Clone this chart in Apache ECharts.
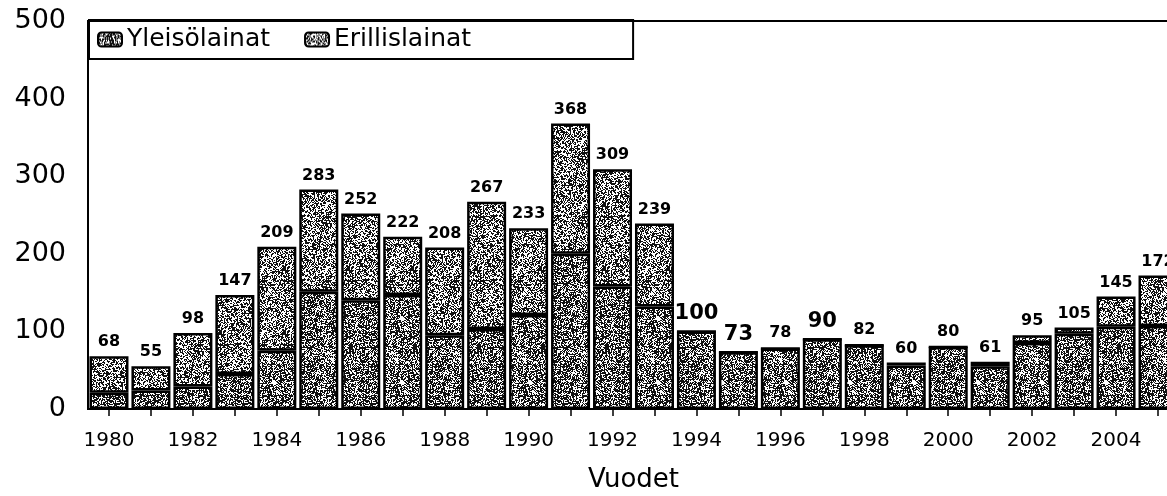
<!DOCTYPE html>
<html>
<head>
<meta charset="utf-8">
<script src="https://cdn.jsdelivr.net/npm/echarts@6/dist/echarts.min.js"></script>
<style>
html, body { margin: 0; padding: 0; background: #fff; }
#chart { width: 1167px; height: 496px; }
</style>
</head>
<body>
<div id="chart"></div>
<script>
// data
var years = ['1980', '1981', '1982', '1983', '1984', '1985', '1986', '1987', '1988', '1989',
    '1990', '1991', '1992', '1993', '1994', '1995', '1996', '1997', '1998', '1999',
    '2000', '2001', '2002', '2003', '2004', '2005']
var totals = [68, 55, 98, 147, 209, 283, 252, 222, 208, 267, 233, 368, 309, 239, 100, 73, 78, 90, 82, 60, 80, 61, 95, 105, 145, 172]
var yleisolainat = [21, 24, 29, 45, 75, 151, 140, 147, 95, 103, 121, 200, 158, 132, 100, 73, 78, 90, 82, 56, 80, 55, 85, 97, 106, 107]
var erillislainat = [47, 31, 69, 102, 134, 132, 112, 75, 113, 164, 112, 168, 151, 107, 0, 0, 0, 0, 0, 4, 0, 6, 10, 8, 39, 65]
// these totals are printed larger in the original
var bigLabels = ['1994', '1995', '1997']

// grainy fill like the photocopied original
const makeTexture = (density, seed) => {
    let c = document.createElement('canvas')
    c.width = 64
    c.height = 64
    let ctx = c.getContext('2d')
    ctx.fillStyle = '#fff'
    ctx.fillRect(0, 0, 64, 64)
    ctx.fillStyle = '#111'
    let s = seed
    for (let y = 0; y < 64; y++) {
        for (let x = 0; x < 64; x++) {
            s = (s * 1103515245 + 12345) % 2147483648
            if (s / 2147483648 < density) ctx.fillRect(x, y, 1, 1)
        }
    }
    return c
}

let myChart = echarts.init(document.getElementById('chart'))

const options = {
    animation: false,
    textStyle: { fontFamily: 'DejaVu Sans', color: '#000' },
    grid: {
        left: 88,
        top: 21,
        bottom: 87,
        width: 1091,
        outerBoundsMode: 'none',
        containLabel: false,
        show: true,
        borderColor: '#000',
        borderWidth: 2
    },
    legend: {
        left: 89,
        top: 20,
        itemWidth: 24,
        itemHeight: 14,
        itemGap: 34,
        padding: [7, 162, 7, 8],
        borderColor: '#000',
        borderWidth: 2,
        textStyle: { fontSize: 25, color: '#000', fontFamily: 'DejaVu Sans' },
        data: ['Yleisölainat', 'Erillislainat']
    },
    xAxis: {
        type: 'category',
        data: years,
        name: 'Vuodet',
        nameLocation: 'middle',
        nameGap: 58,
        nameTextStyle: { fontSize: 26, color: '#000' },
        axisLine: { lineStyle: { color: '#000', width: 2 } },
        axisTick: { show: true, alignWithLabel: true, interval: 0, length: 7, lineStyle: { color: '#000', width: 1.5 } },
        axisLabel: { interval: 1, fontSize: 20, color: '#000', margin: 22 }
    },
    yAxis: {
        type: 'value',
        min: 0,
        max: 500,
        interval: 100,
        axisLine: { show: true, lineStyle: { color: '#000', width: 2 } },
        axisTick: { show: false },
        splitLine: { show: false },
        axisLabel: { fontSize: 27, color: '#000', margin: 22 }
    },
    series: [
        {
            name: 'Yleisölainat',
            type: 'bar',
            stack: 'lainat',
            barWidth: 39,
            data: yleisolainat,
            itemStyle: {
                color: { image: makeTexture(0.6, 12345), repeat: 'repeat' },
                borderColor: '#000',
                borderWidth: 2.5
            }
        },
        {
            name: 'Erillislainat',
            type: 'bar',
            stack: 'lainat',
            barWidth: 39,
            data: erillislainat.map((v, i) => ({
                value: v,
                label: { fontSize: bigLabels.indexOf(years[i]) >= 0 ? 21 : 16 }
            })),
            itemStyle: {
                color: { image: makeTexture(0.5, 67890), repeat: 'repeat' },
                borderColor: '#000',
                borderWidth: 2.5
            },
            label: {
                show: true,
                position: 'top',
                distance: 6,
                fontWeight: 'bold',
                color: '#000',
                fontFamily: 'DejaVu Sans',
                formatter: (p) => totals[p.dataIndex]
            }
        }
    ]
}

myChart.setOption(options)
</script>
</body>
</html>
